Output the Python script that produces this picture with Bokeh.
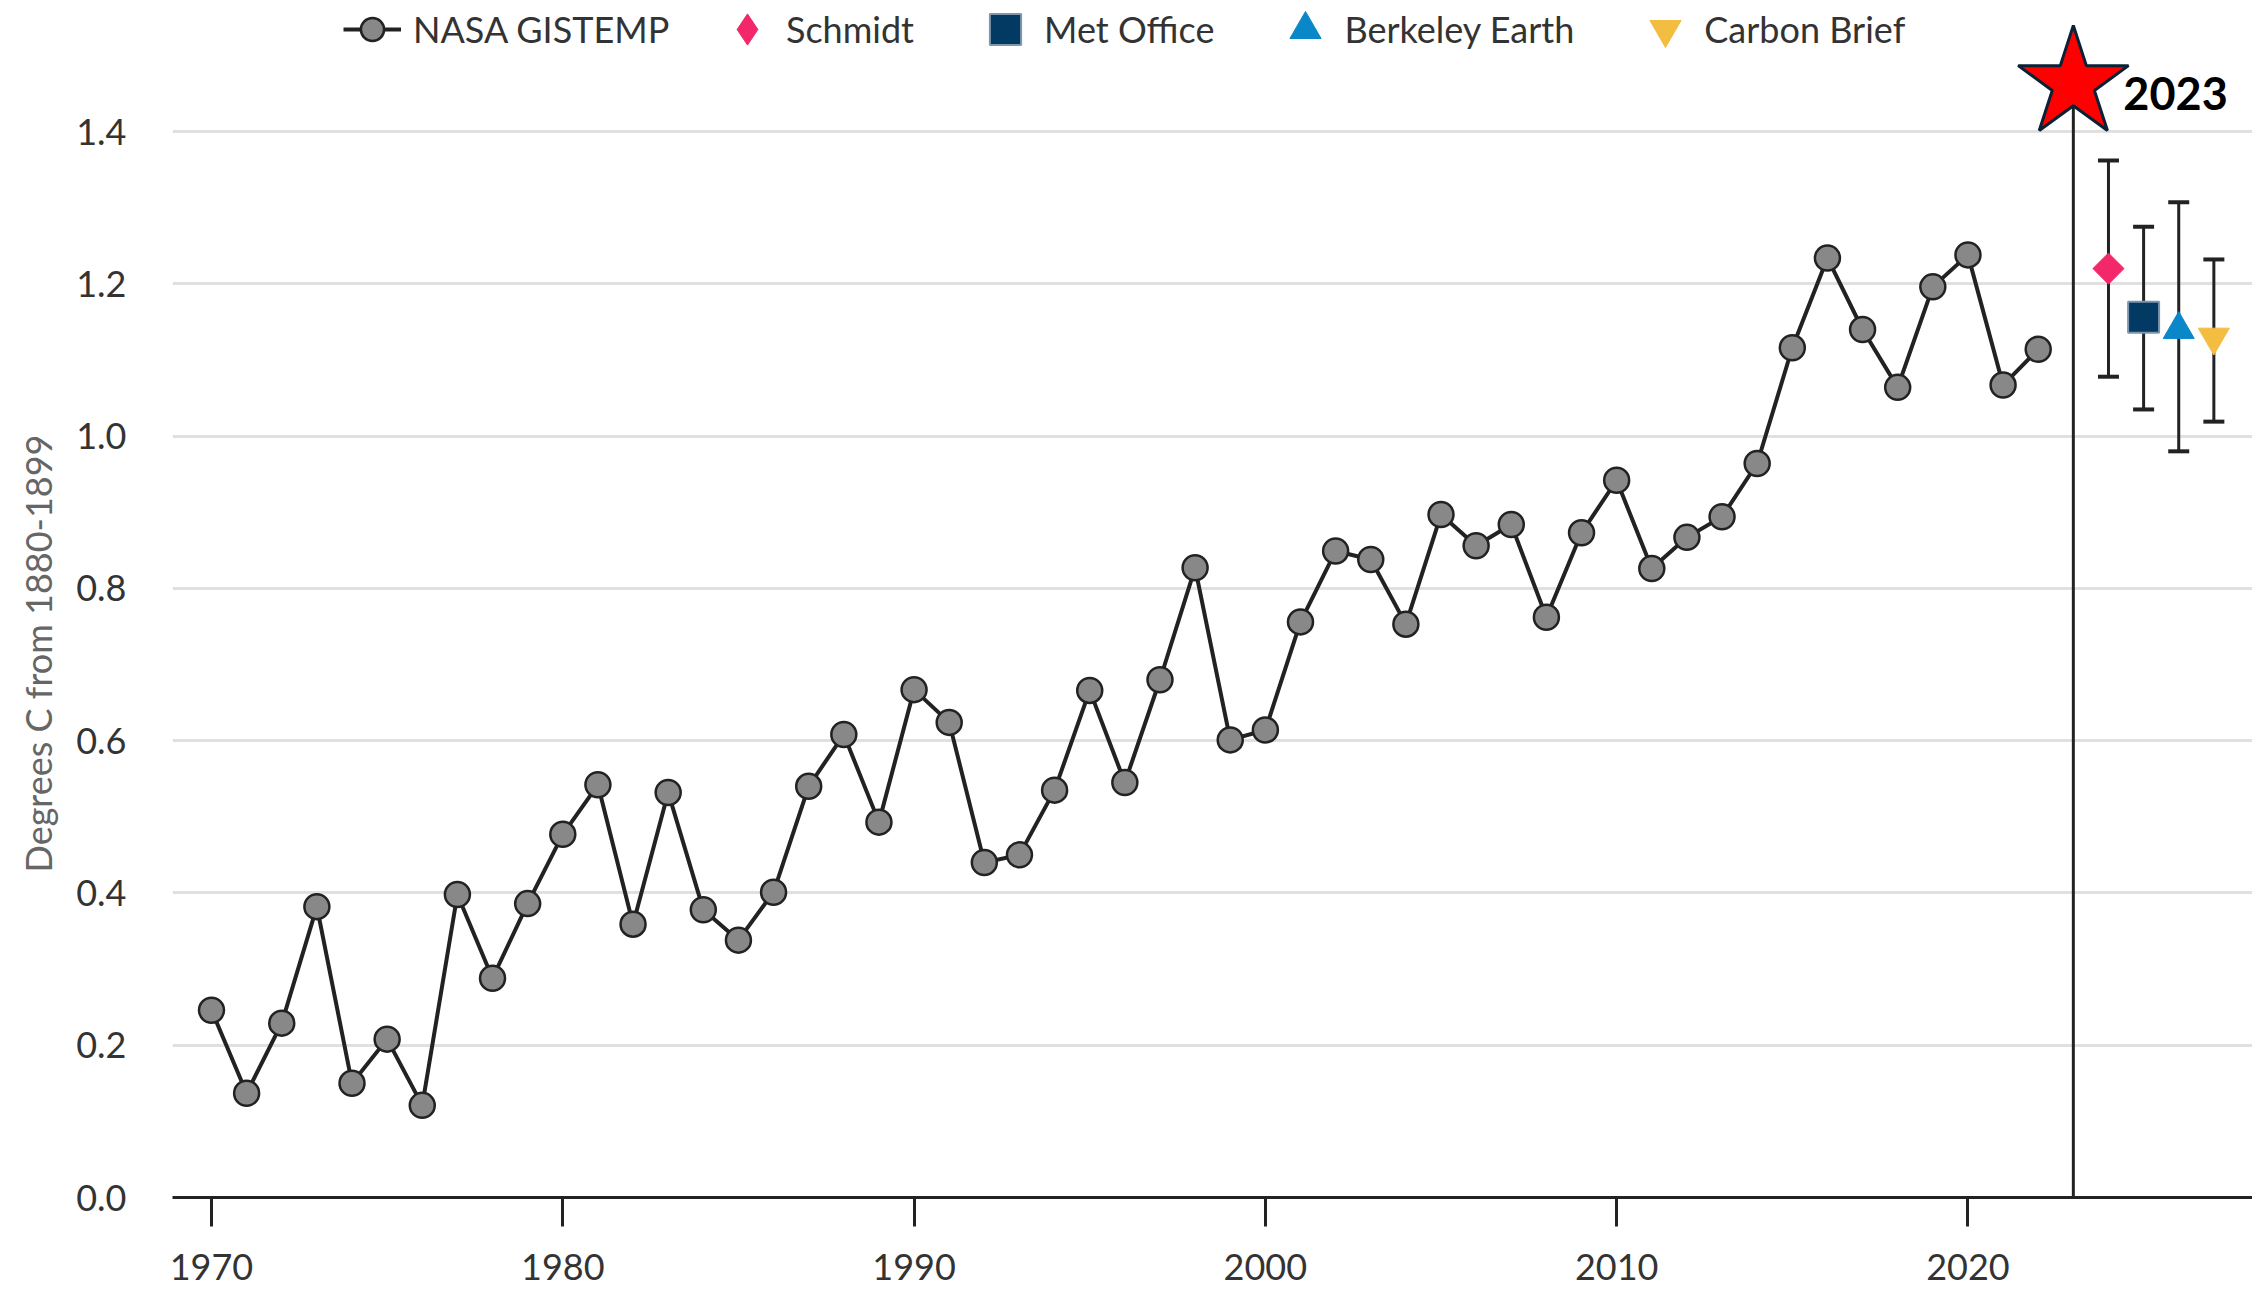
import math
from bokeh.plotting import figure
from bokeh.models import (Range1d, Legend, LegendItem, ColumnDataSource, Whisker,
                          TeeHead, FixedTicker, NumeralTickFormatter, Label, Title)
from bokeh.embed import file_html
from bokeh.resources import INLINE

# ---------------- data ----------------
years = list(range(1970, 2023))
nasa_anomaly = [
    0.246, 0.137, 0.229, 0.382, 0.150, 0.208, 0.121, 0.398, 0.288, 0.386,  # 1970s
    0.477, 0.542, 0.359, 0.532, 0.378, 0.338, 0.401, 0.540, 0.608, 0.493,  # 1980s
    0.667, 0.624, 0.440, 0.450, 0.535, 0.666, 0.545, 0.680, 0.827, 0.601,  # 1990s
    0.614, 0.756, 0.849, 0.838, 0.753, 0.897, 0.856, 0.884, 0.762, 0.873,  # 2000s
    0.942, 0.826, 0.867, 0.894, 0.964, 1.116, 1.234, 1.140, 1.064, 1.196,  # 2010s
    1.238, 1.067, 1.114,                                                    # 2020s
]

est_names = ["Schmidt", "Met Office", "Berkeley Earth", "Carbon Brief"]
est_years = [2024, 2025, 2026, 2027]
est_central = [1.220, 1.156, 1.140, 1.130]
est_low = [1.078, 1.035, 0.980, 1.019]
est_high = [1.362, 1.275, 1.307, 1.232]

highlight_year = 2023
highlight_level = 1.463
highlight_label = "2023"

x_ticks = [1970, 1980, 1990, 2000, 2010, 2020]
y_ticks = [0.0, 0.2, 0.4, 0.6, 0.8, 1.0, 1.2, 1.4]

series_name = "NASA GISTEMP"
y_title = "Degrees C from 1880-1899"

# ---------------- styles ----------------
FONT = "Lato"
DARK = "#222222"
est_styles = [
    dict(marker="square", legend_marker="diamond", size=22, angle=math.pi / 4,
         fill_color="#f2286a", line_color="#f2286a", line_width=1),
    dict(marker="square", legend_marker="square", size=31, angle=0.0,
         fill_color="#023a64", line_color="#7e97ae", line_width=2),
    dict(marker="triangle", legend_marker="triangle", size=31, angle=0.0,
         fill_color="#0a87c9", line_color="#0a87c9", line_width=1),
    dict(marker="inverted_triangle", legend_marker="inverted_triangle", size=31, angle=0.0,
         fill_color="#f2bd41", line_color="#f2bd41", line_width=1),
]

p = figure(width=2252, height=1290,
           x_range=Range1d(1968.89, 2028.10), y_range=Range1d(0, 1.5721),
           output_backend="svg", toolbar_location=None,
           min_border_left=172, min_border_right=0, min_border_top=0, min_border_bottom=93)
p.outline_line_color = None
p.background_fill_color = "white"
p.border_fill_color = "white"

# grid
p.xgrid.visible = False
p.ygrid.ticker = FixedTicker(ticks=y_ticks)
p.ygrid.grid_line_color = "#e0e0e0"
p.ygrid.grid_line_width = 3

# x axis
xa = p.xaxis[0]
xa.ticker = FixedTicker(ticks=x_ticks)
xa.axis_line_color = DARK
xa.axis_line_width = 3
xa.major_tick_line_color = DARK
xa.major_tick_line_width = 3
xa.major_tick_out = 29
xa.major_tick_in = 0
xa.minor_tick_out = 0
xa.minor_tick_in = 0
xa.major_label_text_font = FONT
xa.major_label_text_font_size = "36px"
xa.major_label_text_color = "#333333"
xa.major_label_standoff = 27

# y axis
ya = p.yaxis[0]
ya.ticker = FixedTicker(ticks=y_ticks)
ya.formatter = NumeralTickFormatter(format="0.0")
ya.axis_line_color = None
ya.major_tick_line_color = None
ya.minor_tick_line_color = None
ya.major_tick_out = 0
ya.major_tick_in = 0
ya.minor_tick_out = 0
ya.minor_tick_in = 0
ya.major_label_standoff = 46
ya.major_label_text_font = FONT
ya.major_label_text_font_size = "36px"
ya.major_label_text_color = "#333333"

# y title as a side title (lets it sit lower than the frame centre, as in the reference)
p.add_layout(Title(text=y_title, align="left", offset=325, standoff=27,
                   text_font=FONT, text_font_size="36px", text_font_style="normal",
                   text_color="#666666"), "left")

# highlight vertical line
p.segment(x0=[highlight_year], y0=[0], x1=[highlight_year], y1=[highlight_level],
          line_color=DARK, line_width=3)

# NASA series
r_line = p.line(years, nasa_anomaly, line_color=DARK, line_width=4)
r_pts = p.scatter(years, nasa_anomaly, marker="circle", size=25,
                  fill_color="#888888", line_color=DARK, line_width=2.5)

# error bars
wsrc = ColumnDataSource(dict(x=est_years, lower=est_low, upper=est_high))
p.add_layout(Whisker(base="x", lower="lower", upper="upper", source=wsrc, dimension="height",
                     line_color=DARK, line_width=3,
                     upper_head=TeeHead(size=21, line_width=4, line_color=DARK),
                     lower_head=TeeHead(size=21, line_width=4, line_color=DARK)))

est_items = []
for i, name in enumerate(est_names):
    st = est_styles[i]
    r = p.scatter(x=[est_years[i]], y=[est_central[i]], marker=st["marker"], size=st["size"],
                  angle=st["angle"], fill_color=st["fill_color"], line_color=st["line_color"],
                  line_width=st["line_width"])
    if st["legend_marker"] != st["marker"]:
        # legend glyphs are never rotated, so show the diamond with a key-only renderer
        r = p.scatter(x=[float("nan")], y=[float("nan")], marker=st["legend_marker"],
                      fill_color=st["fill_color"], line_color=st["line_color"],
                      line_width=st["line_width"])
    est_items.append(LegendItem(label=name, renderers=[r]))

# star
p.scatter(x=[highlight_year], y=[highlight_level], marker="star", size=116,
          fill_color="#ff0000", line_color="#0b2236", line_width=3)
p.add_layout(Label(x=highlight_year, y=highlight_level, x_offset=50, y_offset=-10,
                   text=highlight_label, text_font=FONT, text_font_size="45px",
                   text_font_style="bold", text_color="#000000",
                   text_baseline="middle", text_align="left"))

legend_common = dict(orientation="horizontal", padding=0, margin=0, border_line_color=None,
                     background_fill_alpha=0, label_text_font=FONT,
                     label_text_font_size="36px", label_text_color="#333333")
legend_nasa = Legend(items=[LegendItem(label=series_name, renderers=[r_line, r_pts])],
                     location=(171, 1139), glyph_width=58, glyph_height=58, label_height=58,
                     label_standoff=12, spacing=0, **legend_common)
legend_est = Legend(items=est_items, location=(536, 1129), glyph_width=78, glyph_height=78,
                    label_height=78, label_standoff=0, spacing=52, **legend_common)
p.add_layout(legend_nasa)
p.add_layout(legend_est)

open("out.html", "w").write(file_html(p, INLINE))
